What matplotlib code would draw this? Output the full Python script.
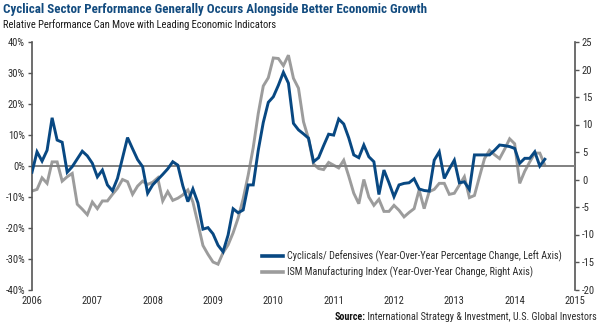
import numpy as np
import matplotlib
matplotlib.use('Agg')
import matplotlib.pyplot as plt
from matplotlib import font_manager
from matplotlib.lines import Line2D

# Prefer a narrow sans face if one is installed
installed = {f.name for f in font_manager.fontManager.ttflist}
FONT = 'DejaVu Sans'
for fam in ['Roboto Condensed', 'Liberation Sans Narrow', 'Open Sans Condensed', 'Roboto']:
    if fam in installed:
        FONT = fam
        break
plt.rcParams['font.family'] = FONT

# Monthly data, Jan 2006 - Jul 2014
start_year = 2006
cyclicals_defensives = [
    -2.1, 4.5, 1.5, 5.0, 15.5, 8.3, 7.6, -2.1, -0.3, 2.2, 4.7, 3.2,          # 2006
    0.8, -3.6, -1.4, -6.2, -8.1, -4.1, 2.5, 9.1, 5.5, 2.0, -0.3, -8.9,       # 2007
    -6.2, -4.5, -2.8, -1.0, 1.3, 0.2, -6.5, -11.6, -7.5, -12.0, -20.5, -20.0,  # 2008
    -22.0, -25.7, -27.8, -22.4, -13.9, -15.2, -14.3, -6.2, -6.2, 5.0, 14.0, 20.5,  # 2009
    22.3, 26.0, 30.2, 26.7, 13.7, 11.6, 10.3, 8.9, 1.3, 2.6, 6.5, 10.2,      # 2010
    9.9, 15.1, 13.5, 9.0, 3.5, 2.6, 6.7, 2.9, 1.3, -9.3, -1.4, -5.5,         # 2011
    -10.0, -6.2, -5.7, -5.5, -4.2, -7.5, -8.0, -8.2, 1.8, 4.5, -4.1, -1.0,   # 2012
    1.8, -5.5, -5.2, -7.7, 3.5, 3.5, 3.5, 3.5, 5.0, 6.7, 6.5, 6.2,           # 2013
    5.6, 0.8, 2.4, 2.4, 4.5, -0.1, 2.1,                                      # 2014
]
ism_manufacturing = [
    -2.1, -1.8, 0.3, -0.7, 3.2, 3.2, -0.3, 0.5, 1.1, -4.5, -5.4, -6.4,       # 2006
    -4.1, -5.3, -3.9, -3.9, -2.7, -1.6, 0.0, -0.4, -2.7, -1.2, -0.3, -0.9,   # 2007
    -0.5, 0.3, -3.9, -2.2, -3.8, -3.4, -2.8, -1.9, -4.1, -8.0, -12.0, -13.6,  # 2008
    -15.0, -15.4, -13.3, -11.9, -9.7, -7.0, -3.5, 0.8, 5.8, 12.0, 17.0, 18.5,  # 2009
    22.1, 22.0, 20.7, 22.6, 18.4, 16.6, 10.5, 7.4, 2.8, 2.0, 1.8, 3.1,       # 2010
    2.6, 2.1, 3.5, 0.6, -2.5, -4.4, 0.0, -3.2, -4.7, -3.6, -5.8, -5.8,       # 2011
    -4.7, -5.6, -6.8, -6.0, -5.3, -1.9, -5.3, -2.2, -1.8, -0.7, -0.7, -2.7,  # 2012
    -2.5, -1.0, 0.5, -3.3, -2.9, 0.5, 3.8, 5.3, 4.5, 3.8, 5.5, 7.4,          # 2013
    6.5, -0.7, 1.5, 3.2, 4.8, 4.8, 2.6,                                      # 2014
]
year_ticks = list(range(2006, 2016))
left_ticks = list(range(-40, 41, 10))
right_ticks = list(range(-20, 26, 5))

title = 'Cyclical Sector Performance Generally Occurs Alongside Better Economic Growth'
subtitle = 'Relative Performance Can Move with Leading Economic Indicators'
label_cyc = 'Cyclicals/ Defensives (Year-Over-Year Percentage Change, Left Axis)'
label_ism = 'ISM Manufacturing Index (Year-Over-Year Change, Right Axis)'
source_head = 'Source:'
source_body = ' International Strategy & Investment, U.S. Global Investors'

BLUE = '#084882'
GRAY = '#9c9c9c'
NAVY = '#124b7f'
TXT = '#2b2b2b'
AXIS = '#555555'

W, H = 600, 326
years = start_year + np.arange(len(cyclicals_defensives)) / 12

fig = plt.figure(figsize=(W / 100, H / 100), dpi=100)
renderer = fig.canvas.get_renderer()


def fitted_size(text, width_px, size=8, **kw):
    t = fig.text(0, 0, text, fontsize=size, **kw)
    w = t.get_window_extent(renderer).width
    t.remove()
    return size * width_px / w


ax = fig.add_axes([32 / W, 36.5 / H, 543 / W, 247.5 / H])
ax2 = ax.twinx()
ax.set_zorder(ax2.get_zorder() + 1)
ax.patch.set_visible(False)

ax.axhline(0, color='#808080', lw=1.4, zorder=1)
ax2.plot(years, ism_manufacturing, color=GRAY, lw=2.1, solid_joinstyle='miter')
ax.plot(years, cyclicals_defensives, color=BLUE, lw=2.1, solid_joinstyle='miter', zorder=3)

ax.set_xlim(2006, 2015)
ax.set_ylim(-40, 40)
ax2.set_ylim(-20, 25)

ax.set_xticks(year_ticks)
ax.set_xticklabels([str(y) for y in year_ticks])
ax.set_yticks(left_ticks)
ax.set_yticklabels([f'{v}%' for v in left_ticks])
ax2.set_yticks(right_ticks)
ax2.set_yticklabels([str(v) for v in right_ticks])

for a in (ax, ax2):
    for side in ('top', 'bottom'):
        a.spines[side].set_visible(False)
    for side in ('left', 'right'):
        a.spines[side].set_color(AXIS)
        a.spines[side].set_linewidth(1.2)
ax.spines['right'].set_visible(False)
ax2.spines['left'].set_visible(False)

ax.tick_params(axis='x', length=0, pad=5, labelsize=7.6, labelcolor=TXT)
ax.tick_params(axis='y', length=3, width=1, color=AXIS, pad=2, labelsize=7.6, labelcolor=TXT)
ax2.tick_params(axis='y', length=3, width=1, color=AXIS, pad=2, labelsize=7.6, labelcolor=TXT)

# Headings
fs_title = fitted_size(title, 424, weight='bold')
fig.text(3 / W, 1 - 12.7 / H, title, fontsize=fs_title, weight='bold', color=NAVY, va='baseline')
fs_sub = fitted_size(subtitle, 275)
fig.text(3 / W, 1 - 28.3 / H, subtitle, fontsize=fs_sub, color='#1a1a1a', va='baseline')

# Legend
fs_leg = fitted_size(label_cyc, 275)
fs_px = fs_leg * 100 / 72
handles = [Line2D([], [], color=BLUE, lw=2.6), Line2D([], [], color=GRAY, lw=2.6)]
leg = ax.legend(handles, [label_cyc, label_ism], loc='upper left',
                bbox_to_anchor=(262 / W, 1 - (257.3 - 0.65 * fs_px) / H),
                bbox_transform=fig.transFigure, frameon=False, fontsize=fs_leg,
                borderpad=0, borderaxespad=0, handlelength=21 / fs_px,
                handletextpad=4 / fs_px, labelspacing=0.45)
for t in leg.get_texts():
    t.set_color(TXT)

# Source line: bold lead-in followed by the plain text
fs_src = fitted_size(source_head + source_body, 262)
body = fig.text(597 / W, 1 - 320 / H, source_body, fontsize=fs_src, color=TXT,
                ha='right', va='baseline')
bw = body.get_window_extent(renderer).width
fig.text((597 - bw) / W, 1 - 320 / H, source_head, fontsize=fs_src, color='#111111',
         weight='bold', ha='right', va='baseline')

fig.savefig('out.png', dpi=100)
